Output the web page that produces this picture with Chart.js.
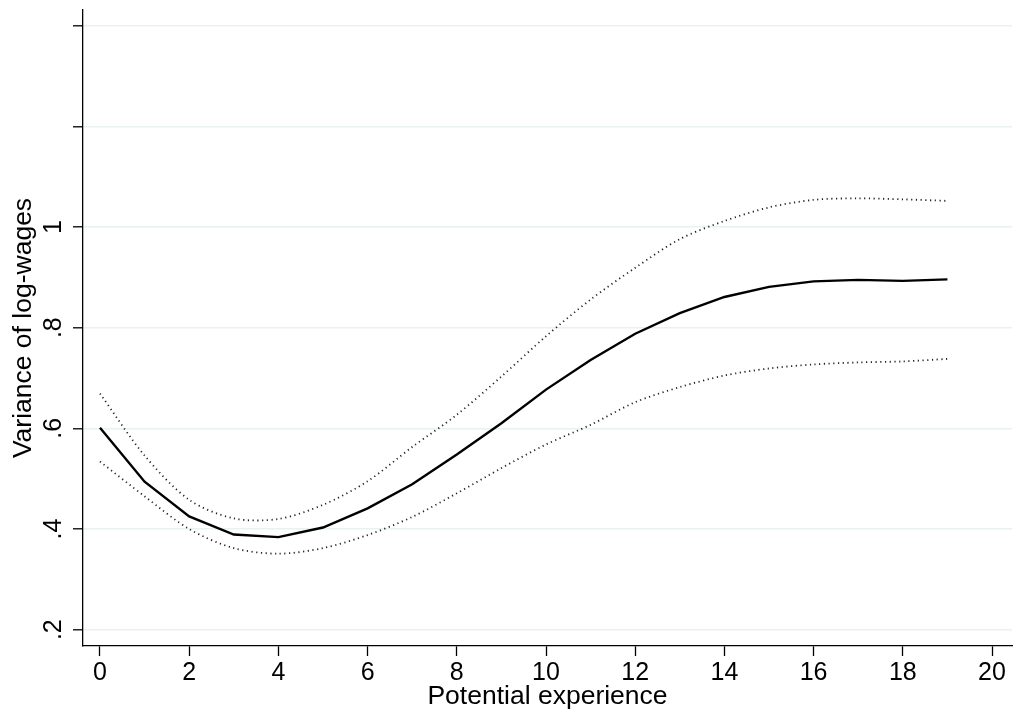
<!DOCTYPE html>
<html>
<head>
<meta charset="utf-8">
<script src="https://cdn.jsdelivr.net/npm/chart.js@4.4.1/dist/chart.umd.min.js"></script>
<style>
html, body { margin: 0; padding: 0; background: #fff; }
#wrap { width: 1014px; height: 722px; }
</style>
</head>
<body>
<div id="wrap"><canvas id="varChart" width="1014" height="722"></canvas></div>
<script>
// potential experience (years)
const experience = [0, 1, 2, 3, 4, 5, 6, 7, 8, 9, 10, 11, 12, 13, 14, 15, 16, 17, 18, 19];

// variance of log-wages, point estimate and 95% band
const variance = [0.601, 0.494, 0.425, 0.389, 0.384, 0.403, 0.441, 0.489, 0.548, 0.610,
                  0.677, 0.736, 0.788, 0.829, 0.861, 0.881, 0.892, 0.895, 0.893, 0.896];
const upperBand = [0.669, 0.546, 0.458, 0.421, 0.420, 0.448, 0.495, 0.563, 0.627, 0.703,
                   0.783, 0.856, 0.919, 0.976, 1.012, 1.039, 1.054, 1.057, 1.055, 1.052];
const lowerBand = [0.534, 0.465, 0.400, 0.362, 0.351, 0.362, 0.388, 0.424, 0.471, 0.521,
                   0.568, 0.607, 0.652, 0.682, 0.705, 0.719, 0.727, 0.731, 0.733, 0.738];

const xTicks = [0, 2, 4, 6, 8, 10, 12, 14, 16, 18, 20];
const yTicks = [0.2, 0.4, 0.6, 0.8, 1.0, 1.2, 1.4];
const yTickLabels = [".2", ".4", ".6", ".8", "1", "", ""];

const FONT = "'Liberation Sans', Arial, Helvetica, sans-serif";

function points(ys){
  return experience.map((x, i) => ({ x: x, y: ys[i] }));
}

// stata style: y tick labels turned on their side
const rotatedYLabels = {
  id: "rotatedYLabels",
  afterDraw(chart){
    const ctx = chart.ctx;
    const s = chart.scales.y;
    ctx.save();
    ctx.fillStyle = "#000";
    ctx.font = "25px " + FONT;
    ctx.textAlign = "center";
    ctx.textBaseline = "alphabetic";
    yTicks.forEach((v, i) => {
      if (!yTickLabels[i]) return;
      ctx.save();
      ctx.translate(s.right - 22, s.getPixelForValue(v));
      ctx.rotate(-Math.PI / 2);
      ctx.fillText(yTickLabels[i], 0, 0);
      ctx.restore();
    });
    ctx.restore();
  }
};

const ctx = document.getElementById("varChart").getContext("2d");

new Chart(ctx, {
  type: "line",
  data: {
    datasets: [
      {
        data: points(upperBand),
        borderColor: "#222",
        borderWidth: 1.8,
        borderDash: [1.2, 3.5],
        pointRadius: 0,
        tension: 0.3,
        fill: false
      },
      {
        data: points(lowerBand),
        borderColor: "#222",
        borderWidth: 1.8,
        borderDash: [1.2, 3.5],
        pointRadius: 0,
        tension: 0.3,
        fill: false
      },
      {
        data: points(variance),
        borderColor: "#000",
        borderWidth: 2.4,
        pointRadius: 0,
        tension: 0,
        fill: false
      }
    ]
  },
  options: {
    responsive: false,
    animation: false,
    layout: { padding: { top: 10, right: 2, left: 0, bottom: 0 } },
    plugins: { legend: { display: false }, tooltip: { enabled: false } },
    scales: {
      x: {
        type: "linear",
        min: -0.381,
        max: 20.448,
        afterBuildTicks: s => { s.ticks = xTicks.map(v => ({ value: v })); },
        afterFit: s => { s.height = 76; },
        border: { display: true, color: "#000", width: 1.3 },
        grid: { drawOnChartArea: false, drawTicks: true, tickLength: 10, tickColor: "#000", tickWidth: 1.3 },
        ticks: { color: "#000", font: { family: FONT, size: 25 }, padding: 2, maxRotation: 0 },
        title: { display: true, text: "Potential experience", color: "#000",
                 font: { family: FONT, size: 26.5 }, padding: { top: 0, bottom: 9 } }
      },
      y: {
        type: "linear",
        min: 0.1676,
        max: 1.4312,
        afterBuildTicks: s => { s.ticks = yTicks.map(v => ({ value: v })); },
        afterFit: s => { s.width = 83; },
        border: { display: true, color: "#000", width: 1.3 },
        grid: { color: "#eaf1f3", lineWidth: 1.6, drawTicks: true, tickLength: 10, tickColor: "#000", tickWidth: 1.3 },
        ticks: { display: false },
        title: { display: true, text: "Variance of log-wages", color: "#000",
                 font: { family: FONT, size: 26.5 }, padding: { top: 8, bottom: 0 } }
      }
    }
  },
  plugins: [rotatedYLabels]
});
</script>
</body>
</html>
